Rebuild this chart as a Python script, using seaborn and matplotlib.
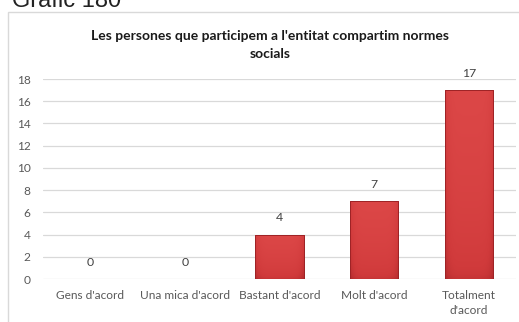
import matplotlib
matplotlib.use("Agg")
import matplotlib.pyplot as plt
import seaborn as sns
import pandas as pd
import numpy as np
from matplotlib.patches import Rectangle
from matplotlib.colors import LinearSegmentedColormap

categories = ["Gens d'acord", "Una mica d'acord", "Bastant d'acord", "Molt d'acord", "Totalment\nd'acord"]
values = [0, 0, 4, 7, 17]
yticks = [0, 2, 4, 6, 8, 10, 12, 14, 16, 18]

df = pd.DataFrame({"categoria": categories, "valor": values})

sns.set_theme(style="white")
plt.rcParams["font.family"] = ["Lato", "DejaVu Sans"]

fig = plt.figure(figsize=(5.19, 3.22), dpi=100)
fig.patch.set_facecolor("white")

# chart frame
fig.patches.append(Rectangle((8 / 519, -0.2), 1.2, 0.2 + (322 - 12) / 322,
                             transform=fig.transFigure, fill=False,
                             edgecolor="#D9D9D9", linewidth=1.0, zorder=0))

# section heading above the chart
fig.text(12 / 519, (322 - 7) / 322, "Gràfic 180", fontsize=17,
         family="Liberation Sans", color="#222222", va="baseline", ha="left")

ax = fig.add_axes([43 / 519, 43 / 322, (516 - 43) / 519, 200 / 322])
ax.set_facecolor("none")

sns.barplot(data=df, x="categoria", y="valor", ax=ax, color="#CC3538",
            width=0.51, edgecolor="#9E2326", linewidth=0.7, saturation=1, zorder=3)

ax.set_ylim(0, 18)
ax.set_xlim(-0.5, len(categories) - 0.5)

# shaded fill inside each bar: lighter top, darker base and sides
shade = LinearSegmentedColormap.from_list("shade", ["#B02A2C", "#D03A3B", "#DC4747"])
for bar, v in zip(ax.patches, values):
    if v == 0:
        bar.set_linewidth(0)
        continue
    x0, w, h = bar.get_x(), bar.get_width(), bar.get_height()
    yy = np.linspace(0, 1, 64)[:, None]
    xx = np.linspace(-1, 1, 32)[None, :]
    grad = 0.35 + 0.65 * yy ** 0.5 - 0.35 * np.abs(xx) ** 6
    im = ax.imshow(grad, cmap=shade, vmin=0, vmax=1, origin="lower",
                   extent=(x0, x0 + w, 0, h), aspect="auto", zorder=3.5,
                   interpolation="bilinear")
    im.set_clip_path(bar)
    edge = Rectangle((x0, 0), w, h, fill=False, edgecolor="#9E2326",
                     linewidth=0.7, zorder=4)
    ax.add_patch(edge)
ax.set_xlim(-0.5, len(categories) - 0.5)
ax.set_ylim(0, 18)

ax.set_yticks(yticks)
ax.set_yticklabels([str(t) for t in yticks])
ax.yaxis.grid(True, color="#D9D9D9", linewidth=0.9, zorder=0)
ax.set_axisbelow(True)
for s in ax.spines.values():
    s.set_visible(False)
ax.tick_params(axis="both", length=0, colors="#595959", labelsize=8.6)
ax.tick_params(axis="y", pad=9)
ax.tick_params(axis="x", pad=8)
for lab in ax.get_xticklabels():
    lab.set_linespacing(1.45)
ax.set_xlabel("")
ax.set_ylabel("")

for i, v in enumerate(values):
    ax.annotate(str(v), (i, v), xytext=(0, 12), textcoords="offset points",
                ha="center", va="center", fontsize=8.8, color="#404040")

fig.text(270 / 519, (322 - 45) / 322,
         "Les persones que participem a l'entitat compartim normes\nsocials",
         ha="center", va="center", fontsize=10, fontweight="bold",
         color="#1a1a1a", linespacing=1.55)

fig.savefig("out.png", dpi=100)
